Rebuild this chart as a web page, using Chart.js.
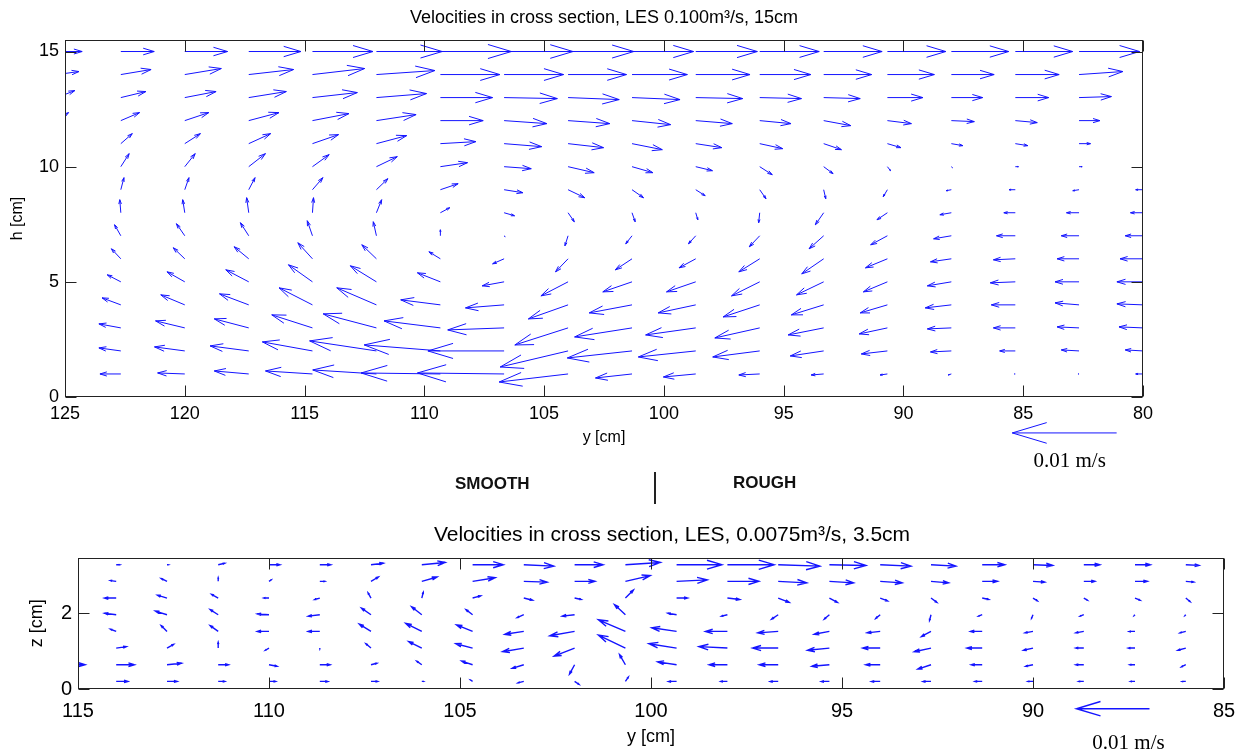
<!DOCTYPE html>
<html>
<head>
<meta charset="utf-8">
<script src="https://cdn.jsdelivr.net/npm/chart.js@4.4.0/dist/chart.umd.min.js"></script>
<style>
body{margin:0;background:#fff;width:1250px;height:754px;position:relative;overflow:hidden;font-family:"Liberation Sans",Arial,sans-serif}
canvas{position:absolute;left:0}
#top{top:0}
#bot{top:500px}
.lab{position:absolute;font-weight:bold;font-size:17px;line-height:1;color:#111}
#sep{position:absolute;left:654px;top:472px;width:2px;height:32px;background:#222}
</style>
</head>
<body>
<canvas id="top" width="1250" height="480"></canvas>
<canvas id="bot" width="1250" height="254"></canvas>
<div class="lab" style="left:455px;top:475px">SMOOTH</div>
<div class="lab" style="left:733px;top:474px">ROUGH</div>
<div id="sep"></div>
<script>

// ---- top section, LES 0.100 m3/s, 15 cm ----
// velocity in mm/s, u along y (cm), v along h

const topCols=[125.33,122.67,120,117.33,114.67,112,109.33,106.67,104,101.33,98.67,96,93.33,90.67,88,85.33,82.67,80];
const topRows=[15,14,13,12,11,10,9,8,7,6,5,4,3,2,1];

const topU=[
 [-2.4,-3.2,-4.1,-5.0,-5.8,-6.3,-6.8,-6.6,-6.3,-5.9,-5.9,-5.7,-5.6,-5.6,-5.5,-5.5,-5.8,-5.7],
 [-2.1,-2.9,-3.5,-4.3,-5.0,-5.6,-5.7,-5.7,-5.6,-5.3,-5.2,-4.9,-4.6,-4.5,-4.1,-4.2,-4.2,-2.9],
 [-1.7,-2.4,-3.0,-3.6,-4.3,-4.8,-5.0,-5.1,-4.9,-4.6,-4.5,-4.0,-3.5,-3.4,-3.0,-3.2,-3.1,-0.5],
 [-1.1,-1.8,-2.3,-2.9,-3.5,-3.8,-4.1,-4.1,-4.0,-3.7,-3.5,-3.0,-2.6,-2.3,-2.2,-2.1,-2.0,-0.5],
 [-0.6,-1.1,-1.5,-2.1,-2.5,-2.9,-3.4,-3.6,-3.4,-2.9,-2.5,-2.2,-1.7,-1.3,-1.1,-1.2,-1.1,-0.3],
 [-0.2,-0.8,-1.0,-1.6,-1.6,-2.0,-2.6,-2.6,-2.5,-2.0,-1.6,-1.2,-0.9,-0.3,-0.1,-0.3,-0.3,0],
 [0,-0.3,-0.4,-0.6,-1.0,-1.1,-1.7,-1.8,-1.6,-1.1,-0.9,-0.6,-0.2,0.4,0.5,0.6,0.6,0.7],
 [0.2,0.1,0.2,0.2,-0.1,-0.5,-0.9,-1.0,-0.6,-0.3,-0.2,0.1,0.8,1.0,1.1,1.1,1.2,1.2],
 [0.4,0.6,0.8,0.8,0.5,0.3,0,-0.1,0.3,0.6,0.7,1.0,1.4,1.6,1.7,1.8,1.7,1.7],
 [0.6,0.9,1.1,1.4,1.4,1.4,1.1,1.1,1.2,1.6,1.6,2.0,2.1,2.1,2.0,2.1,2.1,2.2],
 [1.0,1.3,1.7,2.2,2.3,2.5,2.2,2.1,2.6,2.8,2.8,2.7,2.6,2.3,2.3,2.4,2.3,2.5],
 [1.3,1.8,2.3,2.8,3.2,3.8,3.8,3.7,3.8,4.1,3.6,3.5,3.1,2.6,2.5,2.3,2.3,2.5],
 [1.5,2.1,2.8,3.3,3.9,5.1,5.4,5.4,5.1,5.5,4.8,4.3,3.4,2.7,2.3,2.1,2.1,2.3],
 [1.5,2.1,2.9,3.7,4.8,6.4,7.3,7.3,6.5,6.2,5.5,4.5,3.2,2.5,2.0,1.5,1.7,1.7],
 [1.4,2.0,2.6,3.3,4.5,6.1,7.6,8.3,6.6,3.5,3.1,2.0,1.2,0.7,0.3,0.1,0.1,0.7]
];

const topV=[
 [0,0,0,0,0,0,0,0,0,0,0,0,0,0,0,0,0,0],
 [0.3,0.5,0.6,0.5,0.6,0.4,0,0,0,0,0,0,0,0,0,0,0.3,0],
 [0.7,0.6,0.6,0.6,0.5,0.4,0,-0.1,-0.2,-0.2,-0.1,-0.1,-0.1,0,0,0,0.1,0],
 [0.8,0.8,0.8,0.8,0.7,0.6,0,-0.3,-0.3,-0.4,-0.3,-0.3,-0.5,-0.3,-0.1,-0.2,0,0],
 [0.6,1.0,1.0,1.0,0.9,0.8,0.2,-0.3,-0.4,-0.6,-0.4,-0.5,-0.6,-0.4,-0.2,-0.2,0,0],
 [0.3,1.3,1.3,1.3,1.2,1.0,0.4,-0.2,-0.6,-0.6,-0.4,-0.8,-0.7,-0.4,-0.1,0,0,0],
 [0.8,1.2,1.2,1.2,1.2,1.1,0.6,-0.3,-0.8,-0.8,-0.6,-0.9,-0.9,-0.7,-0.1,0,-0.1,0],
 [1.2,1.3,1.3,1.5,1.5,1.3,0.5,-0.3,-0.9,-0.9,-0.7,-1.0,-1.2,-0.7,-0.2,0,0,0],
 [1.0,1.1,1.2,1.3,1.5,1.4,0.6,-0.1,-1.0,-0.8,-0.8,-1.1,-1.3,-0.9,-0.3,0,0,0],
 [0.7,1.0,1.1,1.2,1.6,1.4,0.7,-0.5,-1.3,-1.1,-0.9,-1.3,-1.5,-0.9,-0.3,-0.1,0,0],
 [0.5,0.7,1.0,1.2,1.7,1.6,0.9,-0.4,-1.4,-1.0,-1.0,-1.4,-1.3,-1.0,-0.4,-0.1,0,0],
 [0.5,0.7,1.0,1.1,1.7,1.7,0.5,-0.3,-1.4,-0.8,-0.8,-1.2,-1.0,-0.8,-0.3,0,0.2,0.1],
 [0.3,0.4,0.7,0.9,1.3,1.4,0.7,-0.2,-1.7,-0.9,-0.7,-1.0,-0.7,-0.6,-0.1,0,0.1,0.1],
 [0.2,0.3,0.4,0.5,0.9,1.0,0.6,0,-1.6,-0.7,-0.6,-0.6,-0.5,-0.3,-0.1,0,0.1,0.1],
 [0,0,0.1,0.3,0.3,0.4,0.1,0.1,-0.8,-0.4,-0.3,-0.1,-0.1,-0.1,-0.1,0,0,0]
];

// ---- bottom section, LES 0.0075 m3/s, 3.5 cm ----

const botCols=[115.33,114,112.67,111.33,110,108.67,107.33,106,104.67,103.33,102,100.67,99.33,98,96.67,95.33,94,92.67,91.33,90,88.67,87.33,86];
const botRows=[3.28,2.84,2.40,1.96,1.52,1.08,0.64,0.20];

const botU=[
 [0,-0.5,-0.2,-0.9,-1.5,-1.5,-1.7,-3.2,-4.2,-4.1,-3.9,-4.8,-6.2,-6.4,-5.7,-5.0,-4.2,-3.4,-3.1,-2.7,-2.2,-2.1,-1.8],
 [0,0.8,0.8,0,-0.3,-0.7,-1.0,-2.1,-3.1,-3.2,-2.8,-3.4,-4.2,-4.3,-3.9,-3.3,-3.0,-2.4,-2.1,-1.6,-1.5,-1.7,-1.1],
 [0,1.6,1.3,0.9,0.7,0.7,0.4,-0.2,-1.1,-1.2,-0.9,-1.1,-1.5,-1.7,-1.5,-1.1,-1.0,-0.8,-0.9,-0.6,-0.5,-0.7,-0.6],
 [0,1.6,1.6,1.1,1.6,1.6,1.3,1.4,0.9,0.9,1.7,1.5,1.2,0.8,0.9,0.7,0.6,0.2,0.5,0.2,0.5,0.1,0.1],
 [0,0.8,0.8,1.1,1.6,1.6,1.6,2.2,2.2,2.6,3.4,3.7,3.4,3.0,2.8,2.1,1.8,1.3,1.6,1.1,1.1,0.8,0.8],
 [0,-1.4,-0.9,0,0.5,0,0.7,1.8,2.3,2.9,2.8,3.7,3.8,3.9,3.5,3.0,2.4,2.3,2.1,1.3,1.1,0.9,1.1],
 [-2.7,-2.5,-2.0,-1.4,-1.1,-1.4,-0.8,0.7,1.5,1.6,0.7,0.8,2.6,2.5,2.6,2.4,2.0,1.8,1.5,1.0,1.1,0.7,0.6],
 [0,-1.6,-1.4,-0.9,-0.9,-1.1,-0.9,-0.2,0.3,0.8,-0.6,-0.4,1.1,0.9,1.1,1.1,1.2,1.1,1.0,0.7,0.7,0.6,0.5]
];

const botV=[
 [0,0,0,0.2,0,0,0.2,0.3,0,-0.2,0,0.3,0,0,-0.2,-0.1,-0.2,-0.2,0,-0.1,0,0,-0.1],
 [0,0.1,0.4,0.5,0.2,0,0.6,0.6,0.5,-0.1,0,0.8,0.2,0,-0.2,-0.2,-0.2,-0.2,0,-0.1,0,0,-0.1],
 [0,0,0.4,0.5,0,-0.2,0.7,0.8,0.3,-0.3,-0.2,1.1,0,-0.2,-0.6,-0.6,-0.4,-0.6,-0.2,-0.4,-0.3,-0.3,-0.5],
 [0,0.2,0.5,0.7,0.1,-0.2,0.9,1.1,0.7,-0.4,-0.2,1.4,0.2,-0.2,-0.6,-0.6,-0.5,-0.8,-0.2,-0.5,-0.2,-0.1,-0.1],
 [0,0.3,0.8,0.8,0,0,1.0,1.1,0.9,-0.4,-0.6,1.6,0.5,0,-0.2,-0.4,-0.2,-0.7,0,-0.2,-0.2,0,-0.2],
 [0,0.2,0.5,0.8,-0.3,-0.1,0.6,0.9,0.6,-0.5,-1.1,1.8,0.6,0.2,0,-0.3,0,-0.5,0,-0.3,0,0,-0.3],
 [0,0,0.2,0,-0.2,0,0.2,0.5,0.5,-0.5,-1.3,1.4,0.4,0,0,-0.2,0,-0.6,0,-0.2,0,0,-0.3],
 [0,0,0,0,0,0,0,0,0.2,-0.2,-0.4,0.6,0,0,0,0,0,0,0,0,0,0,0]
];

const keyValue=10;   // mm/s  ->  0.01 m/s
const keyLabel="0.01 m/s";


Chart.defaults.font.family="'Liberation Sans', Arial, sans-serif";
Chart.defaults.color="#000";

function arrow(ctx,x0,y0,x1,y1){
    const dx=x1-x0, dy=y1-y0;
    const a=0.33, b=0.3;
    ctx.beginPath();
    ctx.moveTo(x0,y0);
    ctx.lineTo(x1,y1);
    ctx.moveTo(x1-a*(dx+b*dy),y1-a*(dy-b*dx));
    ctx.lineTo(x1,y1);
    ctx.lineTo(x1-a*(dx-b*dy),y1-a*(dy+b*dx));
    ctx.stroke();
}

const quiver={
    id:"quiver",
    afterDatasetsDraw(chart,args,o){
        const {ctx,chartArea:a,scales:{x,y}}=chart;

        // arrows, clipped to the axes box
        ctx.save();
        ctx.beginPath();
        ctx.rect(a.left,a.top,a.right-a.left,a.bottom-a.top);
        ctx.clip();
        ctx.strokeStyle=o.color;
        ctx.lineWidth=o.width;
        chart.data.datasets[0].data.forEach(p=>{
            if(!p.u && !p.v) return;
            arrow(ctx,
                x.getPixelForValue(p.x),y.getPixelForValue(p.y),
                x.getPixelForValue(p.x+p.u*o.scale),y.getPixelForValue(p.y+p.v*o.scale));
        });
        ctx.restore();

        // box with inward ticks
        ctx.save();
        ctx.strokeStyle="#222";
        ctx.lineWidth=1;
        const L=Math.round(a.left)+0.5, R=Math.round(a.right)-0.5;
        const T=Math.round(a.top)+0.5, B=Math.round(a.bottom)-0.5;
        ctx.strokeRect(L,T,R-L,B-T);
        ctx.beginPath();
        x.ticks.forEach(t=>{
            const px=Math.round(x.getPixelForValue(t.value))+0.5;
            ctx.moveTo(px,B);ctx.lineTo(px,B-o.tick);
            ctx.moveTo(px,T);ctx.lineTo(px,T+o.tick);
        });
        y.ticks.forEach(t=>{
            const py=Math.round(y.getPixelForValue(t.value))+0.5;
            ctx.moveTo(L,py);ctx.lineTo(L+o.tick,py);
            ctx.moveTo(R,py);ctx.lineTo(R-o.tick,py);
        });
        ctx.stroke();
        ctx.restore();

        // title, centred over the axes box
        ctx.save();
        ctx.fillStyle="#000";
        ctx.font=o.title.size+"px 'Liberation Sans', Arial, sans-serif";
        ctx.textAlign="center";
        ctx.textBaseline="middle";
        ctx.fillText(o.title.text,(a.left+a.right)/2+o.title.dx,o.title.y);
        ctx.restore();

        // reference arrow
        ctx.save();
        ctx.strokeStyle=o.color;
        ctx.lineWidth=o.width;
        const kx=x.getPixelForValue(o.key.x), ky=y.getPixelForValue(o.key.y);
        arrow(ctx,kx,ky,x.getPixelForValue(o.key.x+keyValue*o.scale),ky);
        ctx.fillStyle="#000";
        ctx.font=o.key.font+"px 'Liberation Serif', 'Times New Roman', serif";
        ctx.textAlign="center";
        ctx.textBaseline="middle";
        ctx.fillText(keyLabel,kx+o.key.dx,ky+o.key.dy);
        ctx.restore();
    }
};

function buildPoints(cols,rows,U,V){
    let pts=[];
    rows.forEach((h,i)=>{
        cols.forEach((c,j)=>{
            pts.push({x:c,y:h,u:U[i][j],v:V[i][j]});
        });
    });
    return pts;
}

function drawQuiver(canvasId,cfg){
    return new Chart(
        document.getElementById(canvasId),
        {
            type:"scatter",
            data:{
                datasets:[{
                    data:buildPoints(cfg.cols,cfg.rows,cfg.U,cfg.V),
                    pointRadius:0,
                    pointHoverRadius:0
                }]
            },
            options:{
                responsive:false,
                animation:false,
                events:[],
                layout:{padding:{left:0,right:cfg.padRight,top:cfg.padTop,bottom:0}},
                plugins:{
                    legend:{display:false},
                    tooltip:{enabled:false},
                    title:{display:false},
                    quiver:cfg.quiver
                },
                scales:{
                    x:{
                        type:"linear",
                        reverse:true,
                        min:cfg.xMin,
                        max:cfg.xMax,
                        grid:{display:false,drawTicks:false},
                        border:{display:false},
                        ticks:{stepSize:5,font:{size:cfg.tickSize},padding:cfg.xTickPad,maxRotation:0,autoSkip:false},
                        title:{display:true,text:"y [cm]",font:{size:cfg.labelSize},padding:{top:0,bottom:cfg.xTitlePad}},
                        afterFit(s){
                            s.height=cfg.xHeight;
                            s.paddingLeft=0;
                            s.paddingRight=0;
                        }
                    },
                    y:{
                        type:"linear",
                        min:0,
                        max:cfg.yMax,
                        grid:{display:false,drawTicks:false},
                        border:{display:false},
                        ticks:{stepSize:cfg.yStep,includeBounds:false,font:{size:cfg.tickSize},padding:6},
                        title:{display:true,text:cfg.yTitle,font:{size:cfg.labelSize},padding:{top:cfg.yTitlePad,bottom:0}},
                        afterFit(s){
                            s.width=cfg.yWidth;
                            s.paddingTop=0;
                            s.paddingBottom=0;
                        }
                    }
                }
            },
            plugins:[quiver]
        }
    );
}

drawQuiver("top",{
    cols:topCols, rows:topRows, U:topU, V:topV,
    padTop:40, padRight:107,
    xMin:80, xMax:125, yMax:15.5, yStep:5,
    yTitle:"h [cm]",
    tickSize:18, labelSize:16,
    xTickPad:6, xTitlePad:33, xHeight:83,
    yWidth:65, yTitlePad:8,
    quiver:{color:"rgb(20,20,255)",width:1,scale:0.4357,tick:11,
        title:{text:"Velocities in cross section, LES 0.100m\u00b3/s, 15cm",size:18,dx:0,y:18},
        key:{x:81.1,y:-1.56,font:21,dx:-47,dy:29}}
});

drawQuiver("bot",{
    cols:botCols, rows:botRows, U:botU, V:botV,
    padTop:57.5, padRight:26,
    xMin:85, xMax:115, yMax:3.47, yStep:2,
    yTitle:"z [cm]",
    tickSize:20, labelSize:18,
    xTickPad:10, xTitlePad:6, xHeight:65,
    yWidth:78, yTitlePad:26,
    quiver:{color:"rgb(20,20,255)",width:1.4,scale:0.1915,tick:11,
        title:{text:"Velocities in cross section, LES, 0.0075m\u00b3/s, 3.5cm",size:21,dx:21,y:35},
        key:{x:86.95,y:-0.52,font:21,dx:-21,dy:35}}
});

</script>
</body>
</html>
